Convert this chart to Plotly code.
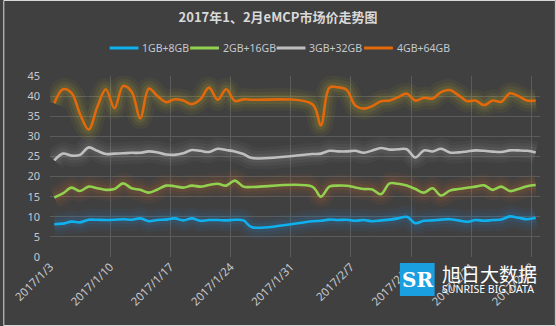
import pandas as pd
import plotly.graph_objects as go

# Trading days (no quotes during the Spring Festival break)
dates = [
    "2017-01-03", "2017-01-04", "2017-01-05", "2017-01-06", "2017-01-07", "2017-01-08",
    "2017-01-09", "2017-01-10", "2017-01-11", "2017-01-12", "2017-01-13", "2017-01-14",
    "2017-01-15", "2017-01-16", "2017-01-17", "2017-01-18", "2017-01-19", "2017-01-20",
    "2017-01-21", "2017-01-22", "2017-01-23", "2017-01-24", "2017-01-25", "2017-01-26",
    "2017-02-02", "2017-02-03", "2017-02-04", "2017-02-05", "2017-02-06", "2017-02-07",
    "2017-02-08", "2017-02-09", "2017-02-10", "2017-02-11", "2017-02-12", "2017-02-13",
    "2017-02-14", "2017-02-15", "2017-02-16", "2017-02-17", "2017-02-18", "2017-02-19",
    "2017-02-20", "2017-02-21", "2017-02-22", "2017-02-23", "2017-02-24", "2017-02-25",
    "2017-02-26", "2017-02-27", "2017-02-28",
]

price_1gb_8gb = [
    8.15, 8.3, 8.8, 8.6, 9.25, 9.25, 9.2, 9.25, 9.4, 9.25, 9.6, 8.9,
    9.2, 9.3, 9.6, 9.1, 9.6, 9.0, 9.2, 9.2, 9.1, 9.25, 9.1, 7.4,
    8.9, 9.0, 9.3, 9.2, 9.25, 9.0, 9.2, 8.9, 9.1, 9.3, 9.6, 10.0,
    8.4, 9.0, 9.1, 9.3, 9.4, 9.1, 8.75, 9.2, 9.0, 9.2, 9.3, 10.1,
    9.75, 9.4, 9.75,
]
price_2gb_16gb = [
    14.8, 15.8, 17.25, 16.4, 17.5, 17.1, 16.7, 16.9, 18.3, 17.1, 16.7, 16.0,
    16.8, 17.75, 17.6, 17.25, 17.75, 17.5, 17.9, 18.2, 17.75, 19.0, 17.5, 17.4,
    17.5, 15.0, 17.5, 17.75, 17.7, 17.3, 16.9, 16.8, 15.6, 18.3, 18.2, 17.75,
    16.9, 16.0, 17.1, 15.25, 16.5, 16.9, 17.2, 17.5, 17.8, 16.7, 17.5, 16.4,
    16.9, 17.6, 17.9,
]
price_3gb_32gb = [
    24.0, 25.7, 25.2, 25.4, 27.25, 26.4, 25.6, 25.7, 25.8, 25.9, 25.9, 26.25,
    26.0, 25.5, 25.4, 25.8, 26.6, 26.4, 26.1, 26.9, 26.6, 26.25, 25.6, 24.6,
    25.6, 25.7, 26.4, 26.25, 26.25, 26.4, 25.9, 26.5, 27.1, 26.7, 26.8, 26.8,
    24.75, 26.5, 26.25, 26.9, 26.0, 26.0, 26.25, 26.5, 26.4, 26.2, 26.1, 26.5,
    26.5, 26.4, 26.0,
]
price_4gb_64gb = [
    38.2, 41.7, 40.8, 35.5, 31.7, 37.3, 41.7, 37.0, 42.5, 41.1, 34.5, 41.9,
    40.0, 38.5, 39.2, 38.9, 38.0, 39.2, 42.1, 39.1, 41.7, 38.8, 39.2, 39.1,
    38.0, 32.7, 42.1, 42.2, 41.6, 37.7, 36.9, 37.5, 38.75, 38.9, 39.75, 40.6,
    38.9, 39.6, 39.4, 41.0, 41.5, 40.25, 38.75, 38.9, 37.75, 38.9, 38.6, 40.7,
    40.0, 38.9, 38.9,
]

series_names = ["1GB+8GB", "2GB+16GB", "3GB+32GB", "4GB+64GB"]
series_values = [price_1gb_8gb, price_2gb_16gb, price_3gb_32gb, price_4gb_64gb]

tick_dates = ["2017-01-03", "2017-01-10", "2017-01-17", "2017-01-24", "2017-01-31",
              "2017-02-07", "2017-02-14", "2017-02-21", "2017-02-28"]
tick_labels = ["2017/1/3", "2017/1/10", "2017/1/17", "2017/1/24", "2017/1/31",
               "2017/2/7", "2017/2/14", "2017/2/21", "2017/2/28"]
y_ticks = [0, 5, 10, 15, 20, 25, 30, 35, 40, 45]

line_colors = ["#0fb0ee", "#92d050", "#bfbfbf", "#e2680c"]
glow_colors = ["rgb(40,140,220)", "rgb(210,110,40)", "rgb(160,160,160)", "rgb(200,190,40)"]

BG = "#404040"
TEXT = "#c4c8cf"
W, H = 556, 326
ML, MR, MT, MB = 47, 16, 76, 69
PW, PH = W - ML - MR, H - MT - MB

# legend layout: left edge of each key (px) and key length
legend_left = [107, 188, 275, 363]
KEY_LEN = 29
LEGEND_Y = 48

# points sit in the middle of each day slot
xs = pd.to_datetime(dates) + pd.Timedelta(hours=12)

fig = go.Figure()
for name, vals, lc, gc in zip(series_names, series_values, line_colors, glow_colors):
    # soft halo under each line
    for w, op in [(22, 0.06), (15, 0.08), (9, 0.10)]:
        fig.add_trace(go.Scatter(
            x=xs, y=vals, mode="lines", showlegend=False, hoverinfo="skip",
            line=dict(color=gc, width=w, shape="spline", smoothing=1.0),
            opacity=op,
        ))
    fig.add_trace(go.Scatter(
        x=xs, y=vals, mode="lines", name=name, showlegend=False,
        line=dict(color=lc, width=2.6, shape="spline", smoothing=1.0),
    ))


def px_x(p):
    return (p - ML) / PW


def px_y(p):
    return (H - MB - p) / PH


shapes = [
    # outer frame
    dict(type="rect", xref="paper", yref="paper",
         x0=px_x(0.5), x1=px_x(W - 0.5), y0=px_y(H - 0.5), y1=px_y(0.5),
         line=dict(color="#d9d9d9", width=1), fillcolor="rgba(0,0,0,0)", layer="above"),
    # logo badge
    dict(type="rect", xref="paper", yref="paper",
         x0=px_x(399), x1=px_x(434), y0=px_y(296), y1=px_y(263),
         line=dict(width=0), fillcolor="#1a9fe0", layer="above"),
]

annotations = [
    dict(text="<b>SR</b>", xref="paper", yref="paper", x=px_x(416.5), y=px_y(280),
         xanchor="center", yanchor="middle", showarrow=False,
         font=dict(family="DejaVu Serif", size=20, color="white")),
    dict(text="旭日大数据", xref="paper", yref="paper", x=px_x(439), y=px_y(273),
         xanchor="left", yanchor="middle", showarrow=False,
         font=dict(family="Noto Sans CJK SC", size=19, color="white")),
    dict(text="SUNRISE BIG DATA", xref="paper", yref="paper", x=px_x(439), y=px_y(289),
         xanchor="left", yanchor="middle", showarrow=False,
         font=dict(family="Noto Sans", size=10.5, color="white")),
]

# legend keys and labels
for name, lc, left in zip(series_names, line_colors, legend_left):
    shapes.append(dict(type="line", xref="paper", yref="paper",
                       x0=px_x(left), x1=px_x(left + KEY_LEN),
                       y0=px_y(LEGEND_Y), y1=px_y(LEGEND_Y),
                       line=dict(color=lc, width=3)))
    annotations.append(dict(text=name, xref="paper", yref="paper",
                            x=px_x(left + KEY_LEN + 2), y=px_y(LEGEND_Y),
                            xanchor="left", yanchor="middle", showarrow=False,
                            font=dict(family="Noto Sans", size=10.5, color=TEXT)))

fig.update_layout(
    width=W, height=H,
    margin=dict(l=ML, r=MR, t=MT, b=MB),
    paper_bgcolor=BG, plot_bgcolor=BG,
    title=dict(text="<b>2017年1、2月eMCP市场价走势图</b>", x=0.5, xanchor="center",
               y=1 - 17 / H, yanchor="middle",
               font=dict(family="Noto Sans CJK SC", size=13, color="#d9d9d9")),
    showlegend=False,
    shapes=shapes,
    annotations=annotations,
    xaxis=dict(
        type="date", range=["2017-01-03", "2017-03-01"],
        tickvals=tick_dates, ticktext=tick_labels, tickangle=-45,
        showgrid=True, gridcolor="#5b5b5b", gridwidth=1,
        zeroline=False, showline=False, ticks="",
        tickfont=dict(family="Noto Sans", size=11.5, color=TEXT),
    ),
    yaxis=dict(
        range=[0, 45], tickvals=y_ticks,
        showgrid=True, gridcolor="#5b5b5b", gridwidth=1,
        zeroline=False, showline=False, ticks="", ticklabelstandoff=9,
        tickfont=dict(family="Noto Sans", size=11, color=TEXT),
    ),
)

fig.write_html("out.html")
